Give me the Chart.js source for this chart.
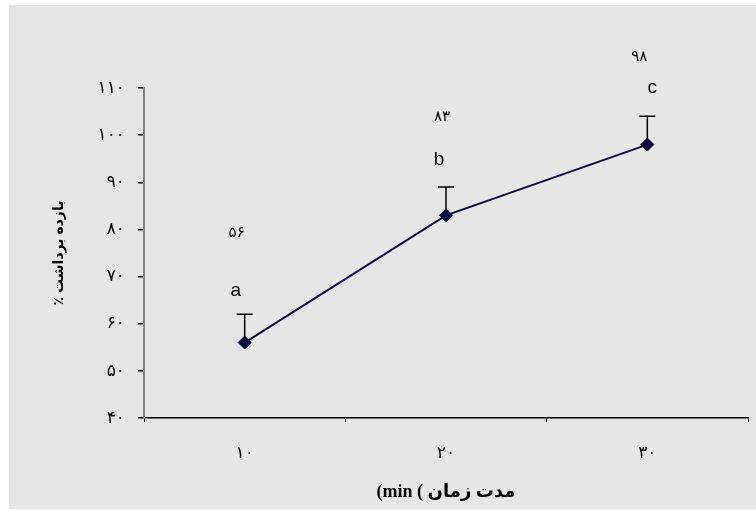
<!DOCTYPE html>
<html>
<head>
<meta charset="utf-8">
<script src="https://cdn.jsdelivr.net/npm/chart.js@4/dist/chart.umd.min.js"></script>
<style>
  body { margin: 0; background: #fff; }
  #wrap { position: relative; width: 756px; height: 511px; background: #fff; }
  #panel { position: absolute; left: 9px; top: 5px; width: 747px; height: 504px; background: #e6e6e6; }
  #chart { position: absolute; left: 0; top: 0; }
</style>
</head>
<body>
<div id="wrap">
  <div id="panel"></div>
  <canvas id="chart" width="756" height="511"></canvas>
</div>
<script>
// data
const times = [10, 20, 30];          // min
const recovery = [56, 83, 98];       // %
const errUp = [6, 6, 6];
const groups = ["a", "b", "c"];
const yMin = 40;
const yMax = 110;
const yStep = 10;

// persian digits
const faDigits = "۰۱۲۳۴۵۶۷۸۹";
const toFa = (n) => String(n).replace(/[0-9]/g, (d) => faDigits[d]);

const baseFont = "'Liberation Sans', 'DejaVu Sans', sans-serif";
const serifFont = "'Liberation Serif', 'DejaVu Sans', serif";
Chart.defaults.font.family = baseFont;
Chart.defaults.color = "#000";

// error bars + letters + mean labels
const annotate = {
  id: "annotate",
  beforeDatasetsDraw(chart) {
    const ctx = chart.ctx;
    const y = chart.scales.y;
    const pts = chart.getDatasetMeta(0).data;
    ctx.save();
    ctx.strokeStyle = "#000";
    ctx.lineWidth = 1.5;
    pts.forEach((p, i) => {
      const top = y.getPixelForValue(recovery[i] + errUp[i]);
      ctx.beginPath();
      ctx.moveTo(p.x, p.y);
      ctx.lineTo(p.x, top);
      ctx.moveTo(p.x - 8, top);
      ctx.lineTo(p.x + 8, top);
      ctx.stroke();
    });
    ctx.restore();
  },
  afterDatasetsDraw(chart) {
    const ctx = chart.ctx;
    const pts = chart.getDatasetMeta(0).data;
    // text boxes were placed by hand in the original
    const letterShift = [[-9, -52], [-7, -56], [5, -57]];
    const meanShift = [[-8, -110], [-4, -98], [-8, -88]];
    ctx.save();
    ctx.fillStyle = "#000";
    ctx.textAlign = "center";
    ctx.textBaseline = "middle";
    pts.forEach((p, i) => {
      ctx.font = "19px " + baseFont;
      ctx.fillText(groups[i], p.x + letterShift[i][0], p.y + letterShift[i][1]);
      ctx.font = "15px " + baseFont;
      ctx.fillText(toFa(recovery[i]), p.x + meanShift[i][0], p.y + meanShift[i][1]);
    });
    ctx.restore();
  },
};

new Chart(document.getElementById("chart"), {
  type: "line",
  data: {
    labels: times,
    datasets: [
      {
        data: recovery,
        borderColor: "#0b0b3b",
        borderWidth: 2,
        tension: 0,
        pointStyle: "rectRot",
        pointRadius: 6.5,
        pointBackgroundColor: "#0b0b3b",
        pointBorderColor: "#0b0b3b",
        pointBorderWidth: 1,
      },
    ],
  },
  options: {
    responsive: false,
    animation: false,
    layout: { padding: { top: 88, right: 8, left: 0, bottom: 0 } },
    plugins: { legend: { display: false }, tooltip: { enabled: false } },
    scales: {
      x: {
        type: "category",
        offset: true,
        grid: { offset: true, drawOnChartArea: false, tickLength: 4, color: "#000", lineWidth: 1 },
        border: { color: "#000", width: 1.5 },
        ticks: {
          padding: 21,
          font: { size: 17 },
          callback: function (v) { return toFa(this.getLabelForValue(v)); },
        },
        title: {
          display: true,
          text: "(min ( مدت زمان",
          font: { family: serifFont, size: 18, weight: "bold" },
          padding: { top: 0, bottom: 8 },
        },
        afterFit: (s) => { s.height = 93; },
      },
      y: {
        min: yMin,
        max: yMax,
        grid: { drawOnChartArea: false, tickLength: 6, color: "#000", lineWidth: 1.5 },
        border: { color: "#808080", width: 2 },
        ticks: {
          stepSize: yStep,
          padding: 13,
          font: { size: 17 },
          callback: (v) => toFa(v),
        },
        title: {
          display: true,
          text: "٪ بازده برداشت",
          font: { size: 14, weight: "bold" },
          padding: { top: 51, bottom: 0 },
        },
        afterFit: (s) => { s.width = 144; },
      },
    },
  },
  plugins: [annotate],
});
</script>
</body>
</html>
